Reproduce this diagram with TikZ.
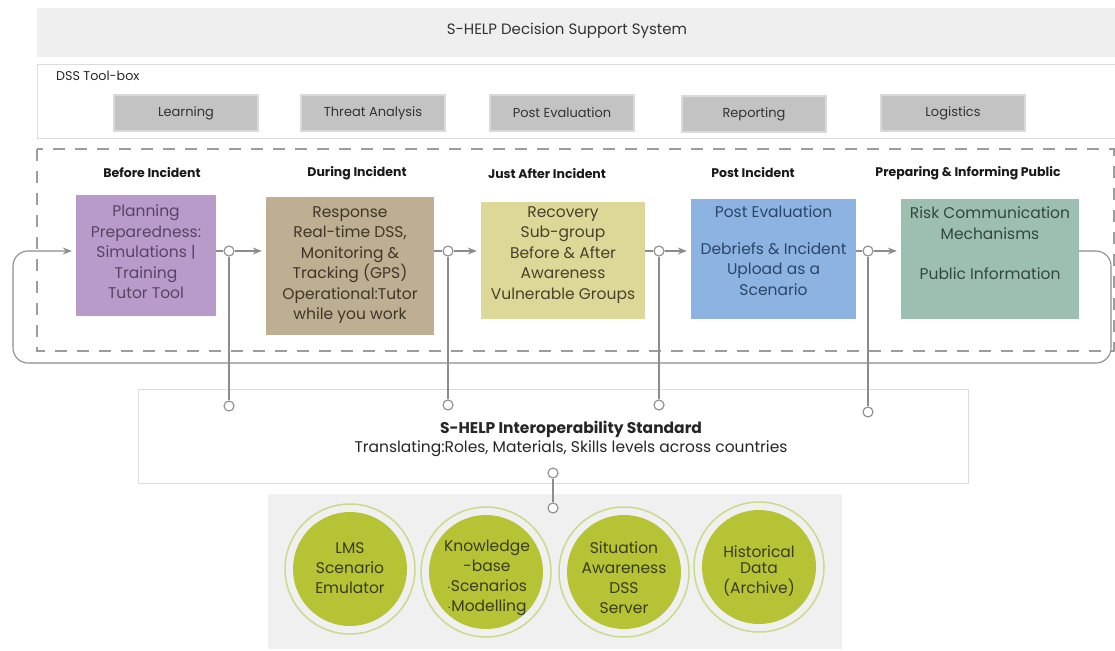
\documentclass[tikz,border=0pt]{standalone}
\usepackage{fontspec}
\setmainfont{Poppins}
\usetikzlibrary{arrows.meta}
\definecolor{cLine}{HTML}{8C8C8C}
\definecolor{cDash}{HTML}{9C9C9C}
\definecolor{cBanner}{HTML}{EFEFEF}
\definecolor{cFrame}{HTML}{DCDCDC}
\definecolor{cTool}{HTML}{C3C3C3}
\definecolor{cToolEdge}{HTML}{DADADA}
\definecolor{cPurple}{HTML}{B89BCB}
\definecolor{cPurpleT}{HTML}{574463}
\definecolor{cTan}{HTML}{BEAE92}
\definecolor{cTanT}{HTML}{3E3628}
\definecolor{cYellow}{HTML}{DDD897}
\definecolor{cYellowT}{HTML}{45432A}
\definecolor{cBlue}{HTML}{8DB3E2}
\definecolor{cBlueT}{HTML}{2C4566}
\definecolor{cSage}{HTML}{9DBFB1}
\definecolor{cSageT}{HTML}{34463F}
\definecolor{cPanel}{HTML}{F0F0F0}
\definecolor{cDisc}{HTML}{B5C334}
\definecolor{cRing}{HTML}{CBD98A}
\definecolor{cDiscT}{HTML}{3A3C1E}
\begin{document}
\begin{tikzpicture}[x=1pt,y=-1pt,
  conn/.style={draw=cLine, line width=1.1pt},
  arr/.style={-{Stealth[length=9pt,width=7pt,inset=3pt]}, shorten >=4pt},
  dot/.style={circle, draw=cLine, fill=white, line width=1.1pt, minimum size=10pt, inner sep=0pt},
  stagebox/.style={rectangle, inner sep=0pt},
  stagetxt/.style={anchor=north, align=center, inner sep=0pt, font=\fontsize{15.5}{20.5}\selectfont},
  phase/.style={font=\fontsize{12.5}{14}\selectfont\bfseries, inner sep=0pt, text=black!90},
  toolbtn/.style={rectangle, fill=cTool, draw=cToolEdge, line width=1.5pt, minimum width=144pt, minimum height=36pt, font=\fontsize{13}{15}\selectfont, text=black!80},
  disc/.style={circle, fill=cDisc, minimum size=114pt, inner sep=0pt},
  ring/.style={draw=cRing, line width=1.5pt},
  disctxt/.style={align=center, inner sep=0pt, text=cDiscT, font=\fontsize{15.5}{20}\selectfont}
]
\useasboundingbox (0,0) rectangle (1115,650);
% top banner
\node[rectangle, fill=cBanner, minimum width=1080pt, minimum height=49pt, anchor=north west, inner sep=0pt] (banner) at (37,8) {};
\node[font=\fontsize{15}{17}\selectfont, text=black!80] (title) at (567,31) {S-HELP Decision Support System};
% toolbox
\node[rectangle, fill=white, draw=cFrame, line width=1pt, minimum width=1085pt, minimum height=74pt, anchor=north west, inner sep=0pt] (toolbox) at (37,64) {};
\node[anchor=west, font=\fontsize{12.7}{14}\selectfont, text=black!85, inner sep=0pt] (tblabel) at (56,76) {DSS Tool-box};
\node[toolbtn] (tLearn) at (186,113) {Learning};
\node[toolbtn] (tThreat) at (373,113) {Threat Analysis};
\node[toolbtn] (tPost) at (562,113) {Post Evaluation};
\node[toolbtn] (tReport) at (754,114) {Reporting};
\node[toolbtn] (tLog) at (953,113) {Logistics};
% dashed frame
\draw[draw=cDash, line width=2.5pt, dash pattern=on 12pt off 10pt] (37,149) rectangle (1114,351);
% phase labels
\node[phase] (h1) at (152,173) {Before Incident};
\node[phase] (h2) at (357,173) {During Incident};
\node[phase] (h3) at (547,174) {Just After Incident};
\node[phase] (h4) at (753,173) {Post Incident};
\node[phase] (h5) at (968,173) {Preparing \& Informing Public};
% stage boxes
\node[stagebox, fill=cPurple, minimum width=140pt, minimum height=121pt] (b1) at (146,255.5) {};
\node[stagebox, fill=cTan, minimum width=168pt, minimum height=138pt] (b2) at (350,266) {};
\node[stagebox, fill=cYellow, minimum width=164pt, minimum height=117pt] (b3) at (563,260.5) {};
\node[stagebox, fill=cBlue, minimum width=165pt, minimum height=120pt] (b4) at (773.5,259) {};
\node[stagebox, fill=cSage, minimum width=178pt, minimum height=120pt] (b5) at (990,259) {};
\node[stagetxt, text=cPurpleT] (s1) at (146,205) {Planning\\Preparedness:\\Simulations |\\Training\\Tutor Tool};
\node[stagetxt, text=cTanT] (s2) at (350,206) {Response\\Real-time DSS,\\Monitoring \&\\Tracking (GPS)\\Operational:Tutor\\while you work};
\node[stagetxt, text=cYellowT] (s3) at (563,206) {Recovery\\Sub-group\\Before \& After\\Awareness\\Vulnerable Groups};
\node[stagetxt, text=cBlueT] (s4) at (773.5,206) {Post Evaluation\\[16pt]Debriefs \& Incident\\Upload as a\\Scenario};
\node[stagetxt, text=cSageT] (s5) at (990,207) {Risk Communication\\Mechanisms\\[20pt]Public Information};
% bottom panels
\node[rectangle, fill=cPanel, minimum width=574pt, minimum height=155pt, anchor=north west, inner sep=0pt] (panel) at (268,494) {};
\node[rectangle, fill=white, draw=cFrame, line width=1pt, minimum width=830pt, minimum height=94pt, anchor=north west, inner sep=0pt] (io) at (138,389) {};
\node[align=center, inner sep=0pt, text=black!85, font=\fontsize{15.5}{19.5}\selectfont] (iotxt) at (571,439) {\textbf{S-HELP Interoperability Standard}\\Translating:Roles, Materials, Skills levels across countries};
% flow circles
\node[dot] (c1) at (229,251) {};
\node[dot] (c2) at (448,251) {};
\node[dot] (c3) at (659,251) {};
\node[dot] (c4) at (868,251) {};
\node[dot] (d1) at (229,406) {};
\node[dot] (d2) at (448,405) {};
\node[dot] (d3) at (659,405) {};
\node[dot] (d4) at (868,412) {};
\node[dot] (e1) at (553,473) {};
\node[dot] (e2) at (553,508) {};
% loop corners
\coordinate (lpR) at (1111,363);
\coordinate (lpL) at (13,363);
% connectors
\draw[conn] (b1.east |- c1) -- (c1);
\draw[conn, arr] (c1) -- (b2.west |- c1);
\draw[conn] (b2.east |- c2) -- (c2);
\draw[conn, arr] (c2) -- (b3.west |- c2);
\draw[conn] (b3.east |- c3) -- (c3);
\draw[conn, arr] (c3) -- (b4.west |- c3);
\draw[conn] (b4.east |- c4) -- (c4);
\draw[conn, arr] (c4) -- (b5.west |- c4);
\draw[conn, arr, rounded corners=15pt] (b5.east |- c4) -| (lpR) -- (lpL) |- (b1.west |- c1);
\draw[conn] (c1) -- (d1);
\draw[conn] (c2) -- (d2);
\draw[conn] (c3) -- (d3);
\draw[conn] (c4) -- (d4);
\draw[conn] (e1) -- (e2);
% discs
\node[disc] (k1) at (350,569) {};
\node[disc] (k2) at (486,572) {};
\node[disc] (k3) at (624,572) {};
\node[disc] (k4) at (759,567) {};
\draw[ring] (k1) circle (65pt);
\draw[ring] (k2) circle (65pt);
\draw[ring] (k3) circle (65pt);
\draw[ring] (k4) circle (65pt);
\node[disctxt] (kt1) at (350,568.5) {LMS\\Scenario\\Emulator};
\node[disctxt] (kt2) at (487,578) {Knowledge\\-base\\$\cdot$Scenarios\\$\cdot$Modelling};
\node[disctxt] (kt3) at (624,577.5) {Situation\\Awareness\\DSS\\Server};
\node[disctxt] (kt4) at (759,571) {Historical\\[-4pt]Data\\(Archive)};
\end{tikzpicture}
\end{document}
